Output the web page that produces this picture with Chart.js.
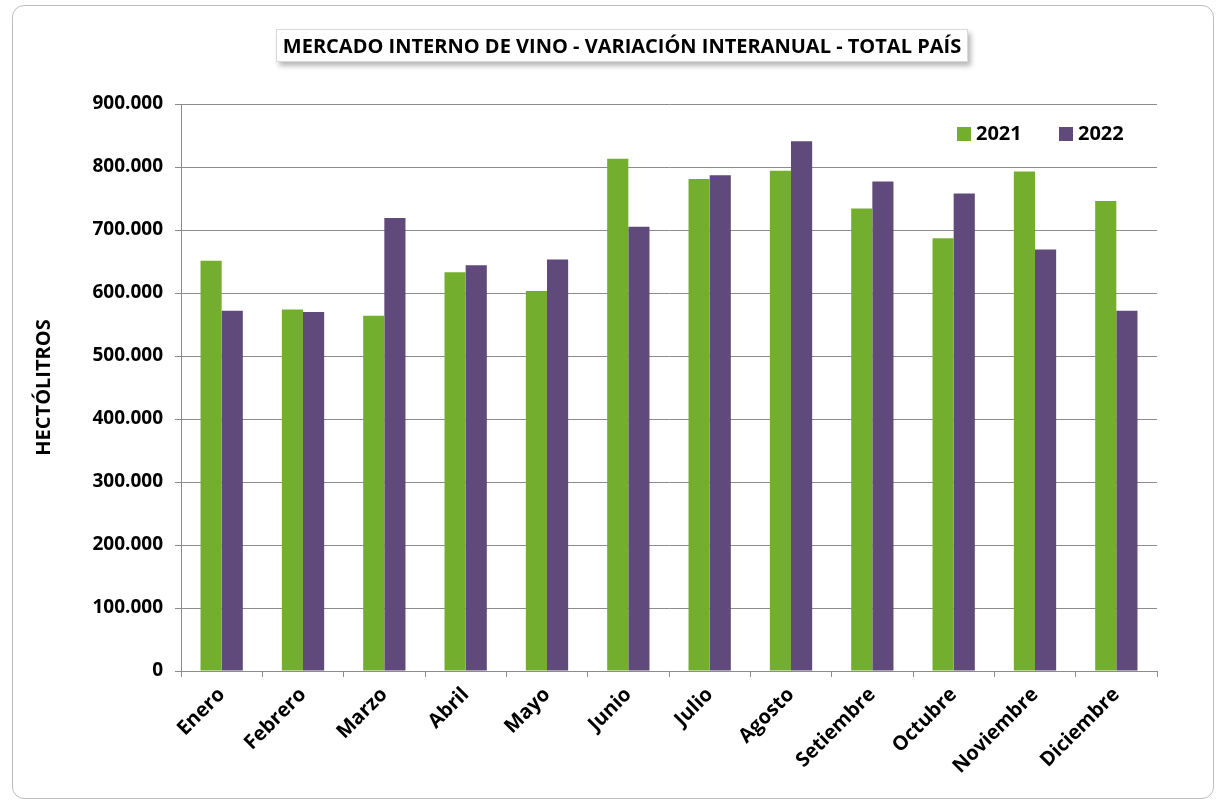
<!DOCTYPE html>
<html>
<head>
<meta charset="utf-8">
<script src="https://cdn.jsdelivr.net/npm/chart.js@4.4.0/dist/chart.umd.min.js"></script>
<style>
  body { margin: 0; background: #fff; }
  #wrap { position: relative; width: 1220px; height: 806px; }
  #marco {
    position: absolute; left: 12px; top: 5px; width: 1202px; height: 794px;
    border: 1px solid #bdbdbd; border-radius: 12px; box-sizing: border-box;
  }
  #titulo {
    position: absolute; left: 276px; top: 29px; width: 692px; height: 33px;
    border: 1px solid #d9d9d9; background: #fff; box-sizing: border-box;
    box-shadow: 3px 4px 5px rgba(0,0,0,0.28);
    font: bold 20px "Open Sans", sans-serif; color: #000;
    text-align: center; line-height: 31px; white-space: nowrap;
  }
  canvas { position: absolute; left: 0; top: 0; }
</style>
</head>
<body>
<div id="wrap">
  <div id="marco"></div>
  <canvas id="vino" width="1220" height="806"></canvas>
  <div id="titulo">MERCADO INTERNO DE VINO - VARIACIÓN INTERANUAL - TOTAL PAÍS</div>
</div>
<script>
  const meses = ["Enero", "Febrero", "Marzo", "Abril", "Mayo", "Junio", "Julio", "Agosto", "Setiembre", "Octubre", "Noviembre", "Diciembre"];
  const ventas2021 = [651000, 574000, 564000, 633000, 603000, 813000, 781000, 794000, 734000, 687000, 793000, 746000];
  const ventas2022 = [572000, 570000, 719000, 644000, 653000, 705000, 787000, 841000, 777000, 758000, 669000, 572000];

  const verde = "#73ae2f";
  const violeta = "#604a7b";
  const fuente = "'Open Sans', sans-serif";

  // separador de miles con punto
  function miles(v) {
    return String(Math.round(v)).replace(/\B(?=(\d{3})+(?!\d))/g, ".");
  }

  // leyenda dibujada dentro del area del grafico, arriba a la derecha
  const leyenda = {
    id: "leyenda",
    afterDraw(chart) {
      const ctx = chart.ctx;
      const items = [
        { txt: "2021", color: verde, x: 957 },
        { txt: "2022", color: violeta, x: 1059 }
      ];
      ctx.save();
      ctx.font = "bold 20px " + fuente;
      ctx.textBaseline = "middle";
      items.forEach((it) => {
        ctx.fillStyle = it.color;
        ctx.fillRect(it.x, 127, 14, 14);
        ctx.fillStyle = "#000";
        ctx.fillText(it.txt, it.x + 19, 134);
      });
      ctx.restore();
    }
  };

  new Chart(document.getElementById("vino"), {
    type: "bar",
    data: {
      labels: meses,
      datasets: [
        { label: "2021", data: ventas2021, backgroundColor: verde, borderWidth: 0 },
        { label: "2022", data: ventas2022, backgroundColor: violeta, borderWidth: 0 }
      ]
    },
    options: {
      responsive: false,
      animation: false,
      layout: { padding: { top: 104, right: 63, bottom: 0, left: 0 } },
      datasets: { bar: { categoryPercentage: 0.52, barPercentage: 1 } },
      plugins: { legend: { display: false }, tooltip: { enabled: false } },
      scales: {
        x: {
          afterFit: (s) => { s.height = 135; },
          grid: { offset: true, drawOnChartArea: false, color: "#8c8c8c", tickLength: 6 },
          border: { color: "#8c8c8c" },
          ticks: {
            color: "#000", font: { family: fuente, size: 20, weight: "bold" },
            minRotation: 45, maxRotation: 45, padding: 6, labelOffset: 0
          }
        },
        y: {
          min: 0, max: 900000,
          afterFit: (s) => { s.width = 181; },
          grid: { color: "#8c8c8c", tickLength: 6 },
          border: { color: "#8c8c8c" },
          ticks: {
            stepSize: 100000, padding: 12, color: "#000",
            font: { family: fuente, size: 19, weight: "bold" },
            callback: (v) => miles(v)
          },
          title: {
            display: true, text: "HECTÓLITROS", color: "#000",
            font: { family: fuente, size: 20, weight: "bold" },
            padding: { top: 32, bottom: 0 }
          }
        }
      }
    },
    plugins: [leyenda]
  });
</script>
</body>
</html>
